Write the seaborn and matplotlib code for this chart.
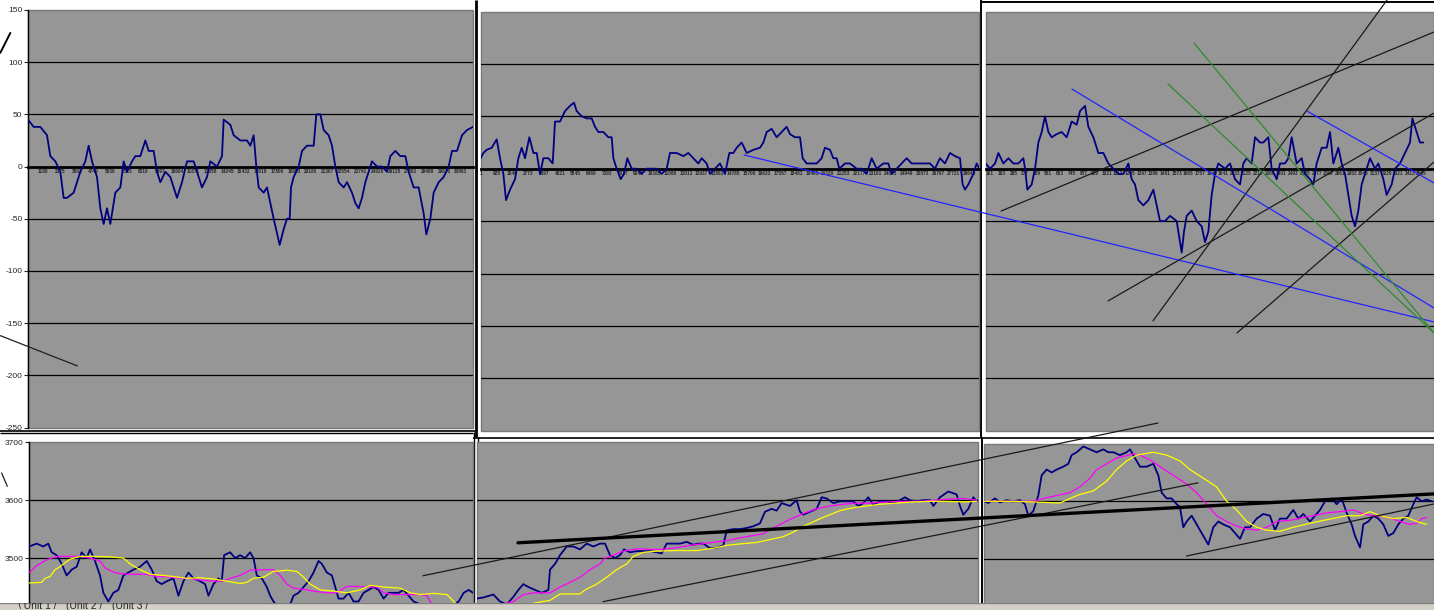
import numpy as np
import matplotlib
matplotlib.use("Agg")
import matplotlib.pyplot as plt
import seaborn as sns

sns.set_style("white")
plt.rcParams['font.family'] = ['Liberation Sans', 'DejaVu Sans']

W, H = 1434, 610
GRAY = "#969696"
NAVY = "#000080"
MAG = "#ff00ff"
YEL = "#ffff00"

# ---- oscillator panels (bar, value) ----
tl_points = [(83,45),(100,38),(120,38),(140,30),(150,10),(165,5),(180,-5),(190,-30),(200,-30),(220,-25),
             (240,-5),(255,5),(265,20),(275,5),(290,-10),(300,-40),(310,-55),(320,-40),(330,-55),(345,-25),
             (360,-20),(370,5),(380,-5),(395,5),(405,10),(420,10),(435,25),(445,15),(460,15),(470,-5),
             (480,-15),(495,-5),(510,-10),(520,-20),(530,-30),(545,-15),(560,5),(580,5),(595,-10),(605,-20),
             (620,-10),(630,5),(650,0),(665,10),(670,45),(690,40),(700,30),(720,25),(740,25),(750,20),
             (760,30),(768,0),(775,-20),(790,-25),(800,-20),(810,-35),(820,-50),(838,-75),(850,-60),(860,-50),
             (868,-50),(872,-20),(880,-10),(895,0),(905,15),(920,20),(940,20),(948,50),(960,50),(970,35),
             (985,30),(995,20),(1005,0),(1015,-15),(1030,-20),(1040,-15),(1055,-25),(1065,-35),(1075,-40),(1085,-30),
             (1095,-15),(1105,-5),(1115,5),(1130,0),(1145,0),(1160,-5),(1170,10),(1185,15),(1200,10),(1215,10),
             (1225,-5),(1240,-20),(1255,-20),(1270,-45),(1278,-65),(1290,-50),(1300,-25),(1315,-15),(1330,-10),(1345,0),
             (1355,15),(1370,15),(1385,30),(1400,35),(1418,38)]

tm_points = [(32,10),(40,15),(50,18),(65,20),(80,28),(90,10),(100,-5),(108,-30),(120,-20),(135,-10),
             (145,10),(155,20),(165,10),(178,30),(190,15),(200,15),(210,-5),(220,10),(235,10),(248,5),
             (255,45),(270,45),(285,55),(300,60),(312,63),(320,55),(335,50),(350,48),(365,48),(375,40),
             (385,35),(400,35),(415,30),(425,30),(430,10),(440,0),(452,-10),(462,-5),(472,10),(485,0),
             (500,0),(515,-5),(530,0),(545,0),(560,0),(575,-5),(590,0),(600,15),(620,15),(640,12),
             (655,15),(670,10),(685,5),(695,10),(710,5),(720,-5),(735,0),(750,5),(765,-5),(778,15),
             (790,15),(800,20),(815,25),(830,15),(850,18),(870,20),(880,25),(890,35),(905,38),(920,30),
             (935,35),(950,40),(960,33),(975,30),(990,30),(998,10),(1010,5),(1025,5),(1040,5),(1055,10),
             (1065,20),(1080,18),(1090,10),(1100,10),(1108,0),(1125,5),(1140,5),(1160,0),(1175,0),(1190,-5),
             (1205,10),(1220,0),(1240,5),(1255,5),(1265,-5),(1280,0),(1295,5),(1310,10),(1325,5),(1340,5),
             (1360,5),(1380,5),(1395,0),(1410,10),(1425,5),(1440,15),(1455,12),(1470,10),(1478,-15),(1485,-20),
             (1495,-15),(1510,-5),(1520,5),(1528,0)]

tr_points = [(17,5),(30,0),(45,5),(55,15),(70,5),(85,10),(100,5),(115,5),(130,10),(135,0),
             (142,-20),(155,-15),(165,0),(175,25),(185,35),(195,50),(205,35),(215,30),(230,33),(245,35),
             (260,30),(275,45),(290,42),(300,55),(315,60),(325,40),(340,30),(355,15),(370,15),(385,5),
             (400,0),(415,-5),(430,-5),(445,5),(455,-10),(465,-15),(475,-30),(490,-35),(505,-30),(520,-20),
             (530,-35),(540,-50),(555,-50),(570,-45),(590,-50),(605,-80),(612,-60),(620,-45),(635,-40),(650,-50),
             (665,-55),(675,-70),(685,-60),(695,-25),(705,-5),(715,5),(735,0),(750,5),(765,-10),(780,-15),
             (790,5),(800,10),(815,5),(825,30),(840,25),(850,25),(865,30),(875,0),(890,-10),(900,5),
             (915,5),(925,10),(935,30),(950,5),(965,10),(975,-5),(990,-10),(1000,-15),(1010,5),(1025,20),
             (1040,20),(1050,35),(1060,5),(1075,20),(1085,5),(1095,-5),(1105,-25),(1115,-45),(1125,-55),(1135,-40),
             (1145,-15),(1160,0),(1170,10),(1185,0),(1195,5),(1210,-10),(1220,-25),(1235,-15),(1245,0),(1260,5),
             (1275,15),(1290,25),(1297,48),(1310,35),(1320,25),(1330,25)]

# ---- price panels (bar, price) ----
bl_price = [(88,3520),(110,3525),(130,3520),(145,3525),(155,3510),(170,3505),(185,3490),(200,3470),(215,3480),(230,3485),
            (245,3510),(260,3500),(270,3515),(285,3495),(300,3470),(310,3440),(325,3425),(340,3440),(355,3445),(370,3470),
            (385,3475),(400,3480),(420,3485),(440,3495),(455,3480),(470,3460),(485,3455),(500,3460),(520,3465),(535,3435),
            (550,3460),(565,3475),(580,3465),(600,3460),(615,3455),(625,3435),(640,3455),(655,3465),(665,3460),(672,3505),
            (690,3510),(705,3500),(720,3505),(735,3500),(750,3510),(760,3500),(770,3470),(785,3465),(800,3450),(810,3435),
            (820,3425),(835,3415),(850,3410),(870,3420),(880,3435),(895,3440),(910,3450),(925,3460),(940,3475),(955,3495),
            (965,3490),(980,3475),(995,3470),(1005,3450),(1015,3430),(1030,3430),(1045,3440),(1060,3425),(1075,3425),(1090,3440),
            (1105,3445),(1120,3450),(1135,3445),(1150,3430),(1165,3440),(1180,3440),(1195,3440),(1210,3445),(1225,3435),(1240,3425),
            (1260,3420),(1280,3415),(1300,3410),(1320,3405),(1340,3415),(1360,3420),(1375,3425),(1390,3440),(1405,3445),(1418,3440)]
bl_ma_fast = [(88,3475),(110,3487),(140,3497),(170,3503),(200,3503),(240,3503),(270,3500),(300,3495),(315,3483),(340,3476),
              (360,3473),(400,3472),(440,3472),(470,3468),(500,3468),(540,3465),(570,3465),(600,3462),(640,3460),(665,3460),
              (690,3465),(720,3470),(750,3479),(790,3480),(820,3480),(840,3470),(860,3455),(880,3448),(910,3446),(940,3443),
              (980,3440),(1010,3440),(1040,3451),(1070,3451),(1100,3450),(1130,3450),(1150,3440),(1180,3437),(1220,3437),(1260,3437),
              (1280,3435),(1295,3420),(1310,3405)]
bl_ma_slow = [(88,3457),(125,3458),(135,3465),(150,3468),(165,3480),(180,3485),(195,3492),(210,3498),(240,3503),(280,3503),
              (330,3502),(370,3500),(390,3490),(420,3480),(450,3472),(490,3470),(520,3468),(560,3465),(600,3466),(640,3464),
              (680,3460),(720,3456),(740,3458),(760,3465),(790,3467),(820,3477),(860,3479),(890,3477),(910,3467),(930,3455),
              (960,3445),(1000,3443),(1040,3440),(1080,3445),(1110,3453),(1150,3450),(1200,3448),(1230,3440),(1260,3437),(1300,3439),
              (1340,3437),(1360,3425),(1380,3415)]

bm_price = [(20,3430),(40,3432),(70,3437),(90,3425),(110,3420),(130,3433),(145,3445),(160,3455),(175,3450),(195,3445),
            (215,3440),(235,3445),(240,3480),(255,3490),(270,3505),(290,3520),(310,3520),(330,3515),(350,3525),(370,3520),
            (390,3525),(405,3525),(420,3505),(435,3500),(450,3505),(462,3515),(480,3510),(500,3512),(520,3512),(540,3512),
            (560,3510),(575,3508),(590,3525),(610,3525),(630,3525),(650,3528),(670,3523),(685,3525),(700,3525),(720,3517),
            (740,3518),(760,3522),(770,3548),(790,3550),(810,3550),(830,3552),(850,3555),(870,3560),(885,3580),(905,3585),
            (920,3582),(935,3595),(960,3590),(980,3600),(990,3580),(1000,3575),(1020,3580),(1040,3585),(1055,3605),(1070,3603),
            (1090,3595),(1110,3598),(1130,3598),(1150,3598),(1165,3590),(1180,3595),(1195,3605),(1210,3592),(1230,3598),(1250,3598),
            (1270,3595),(1290,3600),(1305,3605),(1320,3600),(1340,3598),(1360,3600),(1380,3600),(1390,3590),(1410,3605),(1435,3615),
            (1460,3610),(1470,3590),(1480,3575),(1495,3585),(1510,3605),(1520,3598)]
bm_ma_fast = [(90,3420),(130,3425),(160,3437),(190,3440),(240,3440),(270,3450),(300,3458),(330,3467),(360,3480),(390,3490),
              (405,3500),(430,3505),(460,3512),(500,3516),(540,3515),(575,3515),(620,3518),(660,3522),(700,3525),(740,3528),
              (770,3530),(810,3535),(840,3538),(880,3542),(920,3555),(960,3567),(1000,3577),(1040,3585),(1080,3590),(1120,3593),
              (1160,3595),(1200,3595),(1250,3597),(1300,3598),(1350,3598),(1400,3600),(1440,3602),(1480,3603),(1520,3600)]
bm_ma_slow = [(175,3420),(200,3423),(240,3427),(270,3438),(330,3438),(345,3445),(380,3455),(410,3467),(440,3480),(470,3490),
              (490,3503),(520,3510),(560,3512),(620,3513),(680,3513),(730,3517),(770,3522),(820,3525),(860,3527),(900,3532),
              (940,3537),(970,3545),(1000,3555),(1020,3560),(1050,3568),(1080,3575),(1110,3582),(1150,3587),(1190,3590),(1230,3593),
              (1280,3595),(1330,3597),(1380,3598),(1430,3598),(1480,3597),(1520,3598)]

br_price = [(13,3600),(25,3597),(45,3605),(60,3598),(80,3602),(100,3600),(120,3602),(135,3595),(145,3575),(160,3583),
            (175,3610),(185,3645),(200,3655),(215,3650),(230,3655),(250,3660),(265,3665),(275,3680),(290,3685),(310,3695),
            (330,3690),(350,3685),(370,3690),(385,3685),(400,3685),(420,3680),(440,3685),(450,3690),(465,3675),(480,3660),
            (500,3660),(520,3665),(535,3645),(545,3615),(560,3605),(575,3605),(590,3595),(600,3590),(610,3555),(620,3565),
            (635,3575),(650,3560),(670,3540),(685,3525),(700,3555),(715,3565),(730,3560),(750,3555),(765,3545),(780,3535),
            (795,3555),(810,3555),(830,3570),(850,3578),(870,3575),(885,3550),(900,3570),(920,3570),(940,3585),(955,3570),
            (970,3578),(990,3565),(1005,3575),(1020,3585),(1035,3600),(1055,3605),(1070,3595),(1085,3605),(1100,3580),(1115,3560),
            (1125,3540),(1140,3520),(1150,3560),(1165,3565),(1180,3575),(1195,3570),(1210,3560),(1225,3540),(1240,3545),(1255,3560),
            (1270,3570),(1285,3575),(1300,3595),(1310,3607),(1325,3600),(1340,3603),(1355,3600)]
br_ma_fast = [(13,3600),(60,3600),(120,3600),(160,3600),(190,3605),(230,3610),(270,3615),(300,3625),(330,3640),(350,3655),
              (380,3665),(410,3675),(460,3682),(480,3680),(510,3672),(540,3660),(580,3645),(620,3630),(650,3615),(680,3595),
              (710,3575),(740,3565),(770,3557),(800,3552),(830,3550),(860,3555),(890,3565),(930,3567),(970,3572),(1000,3575),
              (1040,3580),(1080,3582),(1120,3585),(1150,3578),(1180,3575),(1220,3573),(1260,3565),(1290,3560),(1310,3562),(1325,3570),
              (1340,3572)]
br_ma_slow = [(13,3600),(100,3600),(200,3598),(240,3597),(270,3605),(300,3612),(340,3618),(380,3635),(410,3655),(440,3670),
              (470,3680),(520,3685),(560,3680),(600,3670),(630,3655),(670,3640),(710,3625),(740,3600),(770,3585),(800,3565),
              (830,3555),(860,3550),(900,3548),(940,3555),(990,3562),(1040,3568),(1100,3575),(1140,3575),(1170,3582),(1200,3575),
              (1240,3570),(1280,3572),(1310,3565),(1340,3560)]

top_grid = [100, 50, -50, -100, -150, -200]
top_ticks = [150, 100, 50, 0, -50, -100, -150, -200, -250]
bot_grid = [3600, 3500]
bot_ticks = [3700, 3600, 3500]

# hand-drawn trend lines: (owner, (bar0, bar1), (val0, val1), colour, width)
trend_lines = [
    ("tl", (0, 231), (-162, -191), "#202020", 0.9),
    ("tl", (0, 30), (109, 128), "black", 1.4),
    ("tr", (-708, 1362), (13.1, -146.2), "#2424ff", 0.9),
    ("tr", (63, 1362), (-40.4, 130.4), "#1a1a1a", 0.9),
    ("tr", (519, 1221), (-145.2, 160.9), "#1a1a1a", 0.9),
    ("tr", (384, 1362), (-126.2, 53.1), "#1a1a1a", 0.9),
    ("tr", (771, 1362), (-156.7, 6.4), "#1a1a1a", 0.9),
    ("tr", (276, 1362), (76.0, -132.9), "#2424ff", 0.9),
    ("tr", (981, 1362), (55.0, -13.6), "#2424ff", 0.9),
    ("tr", (642, 1362), (119.9, -156.7), "#2e8b2e", 0.9),
    ("tr", (564, 1362), (80.8, -156.7), "#2e8b2e", 0.9),
    ("bl", (5, 22), (3647, 3624), "#202020", 0.9),
    ("bm", (-141, 2064), (3469.5, 3733.3), "#1a1a1a", 0.9),
    ("bm", (399, 2184), (3424.7, 3629.9), "#1a1a1a", 0.9),
    ("bm", (144, 2892), (3526.4, 3610.9), "black", 2.4),
    ("br", (620, 1362), (3505.2, 3595.4), "#1a1a1a", 0.9),
]

fig = plt.figure(figsize=(W / 100, H / 100), dpi=100)


def px_axes(x0, y0, x1, y1, z):
    ax = fig.add_axes([x0 / W, 1 - y1 / H, (x1 - x0) / W, (y1 - y0) / H], zorder=z)
    ax.set_facecolor(GRAY)
    for s in ax.spines.values():
        s.set_visible(False)
    ax.patch.set_edgecolor("#7a7a7a")
    ax.patch.set_linewidth(1)
    return ax


def series(ax, pts, color, lw, z):
    arr = np.array(pts, dtype=float)
    sns.lineplot(x=arr[:, 0], y=arr[:, 1], ax=ax, color=color, lw=lw, zorder=z,
                 estimator=None, sort=False)


def top_panel(ax, pts, xlim, tick_pos, tick_lab, left_axis):
    ax.set_xlim(*xlim)
    ax.set_ylim(-250, 150)
    for g in top_grid:
        ax.axhline(g, color="black", lw=0.9, zorder=1)
    series(ax, pts, NAVY, 1.3, 3)
    sp = ax.spines["bottom"]
    sp.set_visible(True)
    sp.set_position(("data", 0))
    sp.set_color("black")
    sp.set_linewidth(2.0)
    sp.set_zorder(2)
    ax.set_xticks(tick_pos, tick_lab, fontsize=3.4, fontweight="bold")
    ax.tick_params(axis="x", length=0, pad=1.8)
    if left_axis:
        ax.spines["left"].set_visible(True)
        ax.spines["left"].set_color("black")
        ax.spines["left"].set_linewidth(1)
        ax.set_yticks(top_ticks, [str(t) for t in top_ticks], fontsize=6)
        ax.tick_params(axis="y", length=3, width=0.8, pad=1, direction="out", left=True)
    else:
        ax.set_yticks([])
    ax.set_xlabel("")
    ax.set_ylabel("")


def bottom_panel(ax, price, fast, slow, xlim, ylim, left_axis):
    ax.set_xlim(*xlim)
    ax.set_ylim(*ylim)
    for g in bot_grid:
        ax.axhline(g, color="black", lw=0.9, zorder=1)
    series(ax, price, NAVY, 1.3, 3)
    series(ax, fast, MAG, 0.9, 4)
    series(ax, slow, YEL, 0.9, 4)
    ax.set_xticks([])
    if left_axis:
        ax.spines["left"].set_visible(True)
        ax.spines["left"].set_color("black")
        ax.spines["left"].set_linewidth(1)
        ax.set_yticks(bot_ticks, [str(t) for t in bot_ticks], fontsize=6)
        ax.tick_params(axis="y", length=3, width=0.8, pad=1, direction="out", left=True)
    else:
        ax.set_yticks([])
    ax.set_xlabel("")
    ax.set_ylabel("")


# frames of the separate chart objects
frame = fig.add_axes([0, 0, 1, 1], zorder=0)
frame.set_xlim(0, W)
frame.set_ylim(H, 0)
frame.axis("off")
for xs, ys, lw in [((476, 476), (0, 437), 2.0), ((0, 476), (431, 431), 1.2), ((981, 981), (0, 437), 1.4),
                   ((981, W), (1.5, 1.5), 1.4), ((473, W), (437.5, 437.5), 1.2), ((0, 473), (433, 433), 1.0),
                   ((473.5, 473.5), (432, 603), 1.0), ((477.5, 477.5), (437, 603), 1.0),
                   ((981.5, 981.5), (437, 603), 1.4)]:
    frame.plot(xs, ys, color="black", lw=lw, solid_capstyle="butt")

axes = {}
axes["tl"] = px_axes(28, 10, 473, 427.5, 1)
axes["tm"] = px_axes(480.7, 11.5, 979.3, 430.7, 1)
axes["tr"] = px_axes(985.7, 11.5, 1434, 430.7, 2)
axes["bl"] = px_axes(29.3, 442.3, 473, 610, 1)
axes["bm"] = px_axes(476.7, 442.3, 978.3, 610, 4)
axes["br"] = px_axes(984.3, 443.6, 1434, 610, 3)

tl_ticks = list(np.arange(129, 1418, 16.7 * 3))
tm_ticks = list(np.arange(33, 1528, 47.3))
tr_ticks = list(np.arange(30, 1335, 35.0))
top_panel(axes["tl"], tl_points, (83, 1418), tl_ticks,
          [str(1188 + 1187 * i) for i in range(len(tl_ticks))], True)
top_panel(axes["tm"], tm_points, (32, 1528), tm_ticks,
          [str(1 + 924 * i) for i in range(len(tm_ticks))], False)
top_panel(axes["tr"], tr_points, (17, 1362), tr_ticks,
          [str(101 + 92 * i) for i in range(len(tr_ticks))], False)

bottom_panel(axes["bl"], bl_price, bl_ma_fast, bl_ma_slow, (88, 1418), (3410.3, 3700), True)
bottom_panel(axes["bm"], bm_price, bm_ma_fast, bm_ma_slow, (20, 1525), (3410.3, 3700), False)
bottom_panel(axes["br"], br_price, br_ma_fast, br_ma_slow, (13, 1362), (3411.6, 3700), False)

for owner, xs, ys, col, lw in trend_lines:
    axes[owner].plot(xs, ys, color=col, lw=lw, clip_on=False, zorder=6)

# sheet tab strip at the bottom
tabs = fig.add_axes([0, 0, 1, 7.5 / H], zorder=10)
tabs.set_facecolor("#d4d0c8")
tabs.set_xlim(0, W)
tabs.set_ylim(0, 1)
tabs.set_xticks([])
tabs.set_yticks([])
for s in tabs.spines.values():
    s.set_visible(False)
tabs.axhline(1, color="#808080", lw=1)
for x, lab in [(18, "\\ Unit 1 /"), (66, "(Unit 2 /"), (112, "(Unit 3 /")]:
    tabs.text(x, 1.25, lab, fontsize=7.5, va="top", ha="left", clip_on=True)

fig.savefig("out.png", dpi=100, facecolor="white")
